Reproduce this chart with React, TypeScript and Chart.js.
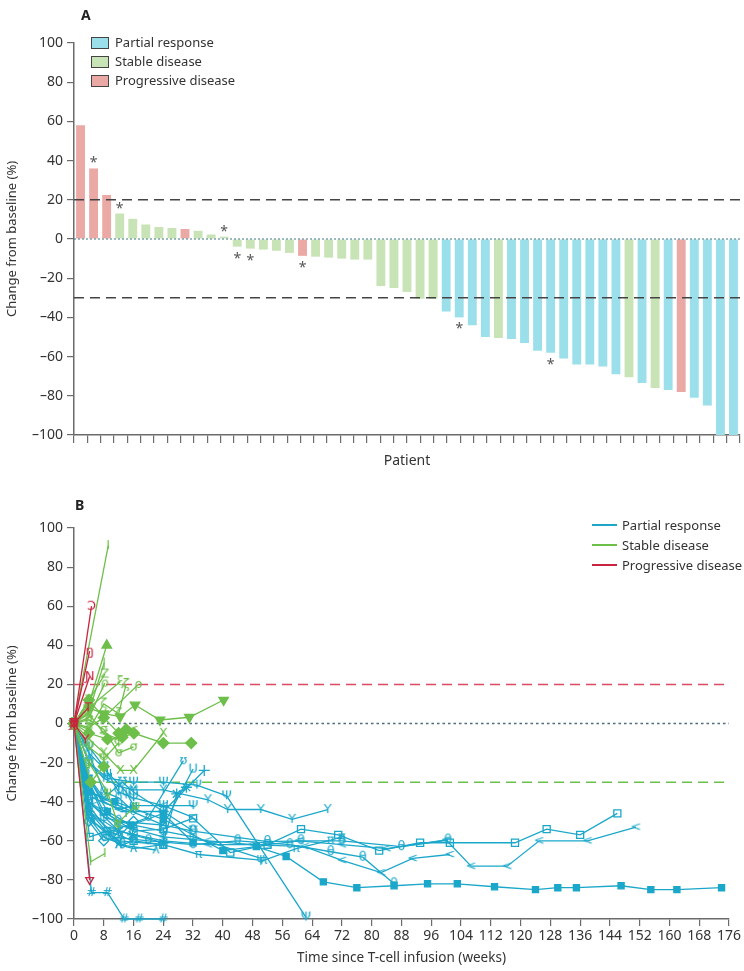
import { useEffect, useRef } from 'react';
import { Chart, registerables } from 'chart.js';

Chart.register(...registerables);

const FONT = '"Noto Sans", "Open Sans", sans-serif';
const TEXT = '#333';
const AXIS = '#6b6b6b';

// ---- panel A: best change per patient ----
const patients = [
  'P1', 'P2', 'P3', 'P4', 'P5', 'P6', 'P7', 'P8', 'P9', 'P10', 'P11', 'P12', 'P13', 'P14', 'P15', 'P16', 'P17',
  'P18', 'P19', 'P20', 'P21', 'P22', 'P23', 'P24', 'P25', 'P26', 'P27', 'P28', 'P29', 'P30', 'P31', 'P32', 'P33', 'P34',
  'P35', 'P36', 'P37', 'P38', 'P39', 'P40', 'P41', 'P42', 'P43', 'P44', 'P45', 'P46', 'P47', 'P48', 'P49', 'P50', 'P51',
];
const bestChange = [
  58, 36, 22.5, 13, 10.3, 7.4, 6.1, 5.6, 5.1, 4.2, 2.3, 1.2, -3.9, -4.9, -5.4, -6, -7.1,
  -8.6, -9, -9.5, -10, -10.5, -10.5, -24, -25, -27, -30.5, -30.5, -37, -40, -44, -50, -50.5, -51,
  -53, -57, -58, -61, -64, -64, -65, -69, -70.5, -73.5, -76, -77, -78, -81, -85, -100, -100,
];
const bestResponse = [
  'PD', 'PD', 'PD', 'SD', 'SD', 'SD', 'SD', 'SD', 'PD', 'SD', 'SD', 'SD', 'SD', 'SD', 'SD', 'SD', 'SD',
  'PD', 'SD', 'SD', 'SD', 'SD', 'SD', 'SD', 'SD', 'SD', 'SD', 'SD', 'PR', 'PR', 'PR', 'PR', 'SD', 'PR',
  'PR', 'PR', 'PR', 'PR', 'PR', 'PR', 'PR', 'PR', 'SD', 'PR', 'SD', 'PR', 'PD', 'PR', 'PR', 'PR', 'PR',
];
const asteriskAt = [1, 3, 11, 12, 13, 17, 29, 36];
const thresholdsA = [20, 0, -30];

const responseKeys = ['PR', 'SD', 'PD'];
const responseNames = ['Partial response', 'Stable disease', 'Progressive disease'];
const barColors = ['#9bdfea', '#c8e3b5', '#eba9a6'];
const lineColors = ['#1ba7ca', '#6dbf4a', '#c9243f'];

// ---- panel B: change over time, [week, % change] ----
const partialLines: [number, number][][] = [
  [[0, 0], [4, -35], [11, -40], [24, -49], [40, -65], [49, -63], [57, -68], [67, -81], [76, -84], [86, -83], [95, -82], [103, -82], [113, -83.5], [124, -85], [130, -84], [135, -84], [147, -83], [155, -85], [162, -85], [174, -84]],
  [[0, 0], [4, -30], [8, -45], [16, -55], [24, -54], [32, -48.5], [42, -66], [52, -62], [61, -54], [71, -57], [82, -65], [93, -61], [101, -61], [118.5, -61], [127, -54], [136, -57], [146, -46]],
  [[0, 0], [4, -40], [12, -55], [24, -60], [36, -62], [52, -62], [60.5, -60], [72, -62], [84, -64], [100, -59.6], [106.7, -73], [116.4, -73], [125, -60], [138, -60], [151, -53]],
  [[0, 0], [4, -45], [10, -58], [20, -60], [32, -62], [44, -60], [58, -62], [69, -65.6], [77.6, -68.4], [86, -82]],
  [[0, 0], [5, -42], [12, -52], [24, -58], [36, -60], [48, -62], [62, -63], [72, -70], [82.5, -76.3], [91, -69], [101, -67]],
  [[0, 0], [5, -50], [12, -60], [24, -62], [33.5, -67], [51, -70], [59.7, -64], [69, -59.6], [72, -58]],
  [[0, 0], [4, -40], [12, -50], [24, -52], [32, -55], [52, -60.4], [61, -60], [72, -60], [88, -63], [100.5, -59.6]],
  [[0, 0], [4, -20], [8, -28], [12, -32], [16, -34], [24, -34], [36, -39], [41.3, -44], [50.2, -44], [58.6, -49], [68.2, -44]],
  [[0, 0], [4, -20], [9, -28], [16, -30], [24, -30], [33, -31.5], [41, -37], [62.3, -99]],
  [[0, 0], [4.7, -86.5], [9, -86.5], [13.5, -100], [17.5, -100], [24, -100]],
  [[0, 0], [4, -45], [10, -55], [20, -48], [29.4, -19]],
  [[0, 0], [4, -35], [12, -42], [24, -52], [32, -23.3]],
  [[0, 0], [5, -38], [14, -45], [24, -45], [35, -24]],
  [[0, 0], [4, -45], [12, -55], [15.7, -57], [24, -61], [27.6, -36], [30.2, -32.6]],
  [[0, 0], [5, -50], [12, -62], [22, -64.7]],
  [[0, 0], [4, -48], [8, -58], [13, -62], [16, -60]],
  [[0, 0], [4, -28], [8, -40], [12, -44], [16, -42], [24, -42], [32, -48]],
  [[0, 0], [4.2, -58], [9, -55], [16, -60], [24, -62]],
  [[0, 0], [4, -15], [9, -25], [14, -35], [16, -42]],
  [[0, 0], [4, -42], [12, -62], [16, -64], [24, -62]],
  [[0, 0], [3, -25], [8, -38], [13, -30], [16, -35], [24, -45], [32, -55]],
  [[0, 0], [4, -30], [8, -48], [16, -52], [24, -55], [32, -58], [50.2, -69]],
  [[0, 0], [4, -28], [9, -45], [15.3, -52], [24, -46], [32, -61]],
  [[0, 0], [4, -50], [8, -60], [12, -58], [16, -50]],
  [[0, 0], [3, -10], [8, -35], [12, -38], [16, -45]],
  [[0, 0], [4, -12], [8, -22], [12, -35], [16, -38], [24, -42], [32, -42]],
];
const partialMarks = ['■', '□', '<', 'θ', '<', 'π', 'θ', 'Y', 'Ψ', '#', 'ʊ', 'U', '+', '☆', 'λ', 'θ', '<', '□', 'ψ', 'ʌ', 'Ʊ', 'ψ', '■', '◇', '0', 'Ψ'];

const stableLines: [number, number][][] = [
  [[0, 0], [9.2, 91]],
  [[0, 0], [4, 10], [8.8, 40]],
  [[0, 0], [4, 6], [8.1, 31]],
  [[0, 0], [4, 12], [8.3, 25.3]],
  [[0, 0], [4, 3], [8.3, 20.7]],
  [[0, 0], [4, 8], [12.4, 21.4]],
  [[0, 0], [4, -2], [8, 3], [17.3, 20]],
  [[0, 0], [4, 8], [8, 5], [12.4, 3.5], [16.4, 9.5], [23.1, 1.8], [31, 3.2], [40.2, 12]],
  [[0, 0], [4, -5], [9, -8], [13, -7], [16.1, -5], [24, -10], [31.5, -10]],
  [[0, 0], [4, -8], [8, -15], [12.5, -24], [16, -24], [24, -5]],
  [[0, 0], [4.5, -70.7], [8.3, -66.5]],
  [[0, 0], [4.5, -30], [8, -22]],
  [[0, 0], [4, -20], [9, -35], [11.7, -51], [16.6, -42]],
  [[0, 0], [4, 5], [8, -5], [12, -8], [16, -3]],
  [[0, 0], [4, 2], [8, -3], [12, -15], [16, -12]],
  [[0, 0], [4, -3], [8, 10], [12, 5], [14, 20]],
  [[0, 0], [4, 12], [8, 3], [12, -5], [14, -3]],
  [[0, 0], [4, -12], [8, -18], [12, -10]],
];
const stableMarks = ['I', '▲', 'J', 'Z', 'ρ', 'ξ', 'ρ', '▼', '◆', 'X', 'I', '◆', 'ψ', '<', 'σ', 'ζ', '◆', 'Ψ'];

const progressiveLines: [number, number][][] = [
  [[0, 0], [4.7, 60]],
  [[0, 0], [4.2, 37]],
  [[0, 0], [4.2, 24]],
  [[0, 0], [3.8, 8]],
  [[0, 0], [4.2, -80]],
  [[0, 0], [3.1, -8.4]],
];
const progressiveMarks = ['Ↄ', 'ŋ', 'Ɲ', 'T', '▽', 'Y'];

const thresholdsB = [20, 0, -30];

const tickLabel = (v: string | number) => (Number(v) < 0 ? '–' + Math.abs(Number(v)) : String(v));

function makeGlyph(ch: string, color: string): HTMLCanvasElement {
  const c = document.createElement('canvas');
  c.width = 13;
  c.height = 15;
  const g = c.getContext('2d');
  if (g) {
    g.fillStyle = color;
    g.font = '13px "DejaVu Sans"';
    g.textAlign = 'center';
    g.textBaseline = 'middle';
    g.fillText(ch, 6.5, 7.5);
  }
  return c;
}

function markerStyle(mark: string, color: string) {
  switch (mark) {
    case '■': return { pointStyle: 'rect', pointBackgroundColor: color, pointRadius: 4.3 };
    case '□': return { pointStyle: 'rect', pointBackgroundColor: 'rgba(255,255,255,0)', pointRadius: 5 };
    case '▼': return { pointStyle: 'triangle', pointRotation: 180, pointBackgroundColor: color, pointRadius: 5.5 };
    case '▽': return { pointStyle: 'triangle', pointRotation: 180, pointBackgroundColor: 'rgba(255,255,255,0)', pointRadius: 4.5 };
    case '▲': return { pointStyle: 'triangle', pointBackgroundColor: color, pointRadius: 5.5 };
    case '◆': return { pointStyle: 'rectRot', pointBackgroundColor: color, pointRadius: 5.5 };
    case '◇': return { pointStyle: 'rectRot', pointBackgroundColor: 'rgba(255,255,255,0)', pointRadius: 5 };
    case '☆': return { pointStyle: 'star', pointBackgroundColor: 'rgba(255,255,255,0)', pointRadius: 5.5 };
    case '+': return { pointStyle: 'cross', pointRadius: 5.5 };
    default: return { pointStyle: makeGlyph(mark, color), pointRadius: 5 };
  }
}

const axisTitle = (text: string, size: number, padding: { top: number; bottom: number }) => ({
  display: true,
  text,
  color: TEXT,
  font: { family: FONT, size },
  padding,
});

const WaterfallChart = () => {
  const ref = useRef<HTMLCanvasElement>(null);

  useEffect(() => {
    if (!ref.current) return;

    const refLines = {
      id: 'refLinesA',
      afterDatasetsDraw(chart: Chart) {
        const { ctx, chartArea, scales } = chart;
        ctx.save();
        thresholdsA.forEach((t) => {
          const y = scales.y.getPixelForValue(t);
          ctx.beginPath();
          ctx.strokeStyle = t === 0 ? '#3f7888' : '#444';
          ctx.lineWidth = t === 0 ? 1.2 : 1.5;
          ctx.setLineDash(t === 0 ? [2, 2] : [10, 6]);
          ctx.moveTo(chartArea.left, y);
          ctx.lineTo(chartArea.right, y);
          ctx.stroke();
        });
        ctx.restore();
      },
    };

    const asterisks = {
      id: 'asterisks',
      afterDatasetsDraw(chart: Chart) {
        const { ctx, scales } = chart;
        ctx.save();
        ctx.fillStyle = '#555';
        ctx.font = `14px ${FONT}`;
        ctx.textAlign = 'center';
        ctx.textBaseline = 'middle';
        asteriskAt.forEach((i) => {
          const v = bestChange[i];
          const x = scales.x.getPixelForValue(i);
          const y = scales.y.getPixelForValue(v);
          ctx.fillText('*', x, v >= 0 ? y - 5 : y + 12);
        });
        ctx.restore();
      },
    };

    const chart = new Chart(ref.current, {
      type: 'bar',
      data: {
        labels: patients,
        datasets: responseKeys.map((key, k) => ({
          label: responseNames[k],
          data: bestChange.map((v, i) => (bestResponse[i] === key ? v : null)),
          backgroundColor: barColors[k],
          borderWidth: 0,
          grouped: false,
          categoryPercentage: 1,
          barPercentage: 0.68,
        })),
      },
      options: {
        responsive: true,
        maintainAspectRatio: false,
        animation: false,
        layout: { padding: { top: 43, right: 4, left: 0, bottom: 0 } },
        plugins: { legend: { display: false }, tooltip: { enabled: false } },
        scales: {
          x: { display: false },
          xt: {
            type: 'linear',
            position: 'bottom',
            min: 0,
            max: 49,
            ticks: { stepSize: 1, display: false },
            grid: { drawOnChartArea: false, tickLength: 8, color: AXIS, lineWidth: 1.2 },
            border: { color: AXIS, width: 1.5 },
            title: axisTitle('Patient', 14, { top: 0, bottom: 11 }),
            afterFit: (s: any) => { s.height = 45; },
          },
          y: {
            min: -100,
            max: 100,
            ticks: { stepSize: 20, color: TEXT, font: { family: FONT, size: 14 }, padding: 4, callback: tickLabel },
            grid: { drawOnChartArea: false, tickLength: 7, color: AXIS, lineWidth: 1.2 },
            border: { color: AXIS, width: 1.5 },
            title: axisTitle('Change from baseline (%)', 13, { top: 4, bottom: 0 }),
            afterFit: (s: any) => { s.width = 74; },
          },
        },
      } as any,
      plugins: [refLines, asterisks],
    });

    return () => chart.destroy();
  }, []);

  return <canvas ref={ref} />;
};

const SpiderChart = () => {
  const ref = useRef<HTMLCanvasElement>(null);

  useEffect(() => {
    if (!ref.current) return;

    const refLines = {
      id: 'refLinesB',
      beforeDatasetsDraw(chart: Chart) {
        const { ctx, chartArea, scales } = chart;
        const styles = [
          { color: '#d64a63', dash: [10, 6], width: 1.5 },
          { color: '#4d6b7a', dash: [2.5, 3], width: 1.3 },
          { color: '#6dbf4a', dash: [10, 6], width: 1.5 },
        ];
        ctx.save();
        thresholdsB.forEach((t, k) => {
          const y = scales.y.getPixelForValue(t);
          ctx.beginPath();
          ctx.strokeStyle = styles[k].color;
          ctx.lineWidth = styles[k].width;
          ctx.setLineDash(styles[k].dash);
          ctx.moveTo(chartArea.left, y);
          ctx.lineTo(chartArea.right, y);
          ctx.stroke();
        });
        ctx.restore();
      },
    };

    const groups = [
      { lines: progressiveLines, marks: progressiveMarks, color: lineColors[2] },
      { lines: stableLines, marks: stableMarks, color: lineColors[1] },
      { lines: partialLines, marks: partialMarks, color: lineColors[0] },
    ];
    const datasets = groups.flatMap((g) =>
      g.lines.map((line, i) => ({
        data: line.map(([x, y]) => ({ x, y })),
        borderColor: g.color,
        borderWidth: 1.3,
        pointBorderColor: g.color,
        pointBorderWidth: 1.3,
        tension: 0,
        clip: false as const,
        ...markerStyle(g.marks[i], g.color),
      })),
    );

    const chart = new Chart(ref.current, {
      type: 'line',
      data: { datasets },
      options: {
        responsive: true,
        maintainAspectRatio: false,
        animation: false,
        layout: { padding: { top: 38, right: 15, left: 0, bottom: 0 } },
        plugins: { legend: { display: false }, tooltip: { enabled: false } },
        scales: {
          x: {
            type: 'linear',
            min: 0,
            max: 176,
            ticks: { stepSize: 8, autoSkip: false, maxRotation: 0, color: TEXT, font: { family: FONT, size: 14 }, padding: 2 },
            grid: { drawOnChartArea: false, tickLength: 7, color: AXIS, lineWidth: 1.2 },
            border: { color: AXIS, width: 1.5 },
            title: axisTitle('Time since T-cell infusion (weeks)', 13.5, { top: 0, bottom: 5 }),
            afterFit: (s: any) => { s.height = 52; },
          },
          y: {
            min: -100,
            max: 100,
            ticks: { stepSize: 20, color: TEXT, font: { family: FONT, size: 14 }, padding: 4, callback: tickLabel },
            grid: { drawOnChartArea: false, tickLength: 7, color: AXIS, lineWidth: 1.2 },
            border: { color: AXIS, width: 1.5 },
            title: axisTitle('Change from baseline (%)', 13, { top: 4, bottom: 0 }),
            afterFit: (s: any) => { s.width = 74; },
          },
        },
      } as any,
      plugins: [refLines],
    });

    return () => chart.destroy();
  }, []);

  return <canvas ref={ref} />;
};

const legendText: React.CSSProperties = { fontFamily: FONT, fontSize: 13, color: TEXT, lineHeight: '19px', whiteSpace: 'nowrap' };

export default function App() {
  return (
    <div style={{ position: 'absolute', left: 0, top: 0, width: 744, height: 971, background: '#fff' }}>
      <div style={{ position: 'absolute', left: 0, top: 0, width: 744, height: 480 }}>
        <WaterfallChart />
      </div>
      <div style={{ position: 'absolute', left: 0, top: 490, width: 744, height: 481 }}>
        <SpiderChart />
      </div>

      <div style={{ position: 'absolute', left: 81, top: 5, fontFamily: FONT, fontWeight: 700, fontSize: 14, color: '#222' }}>A</div>
      <div style={{ position: 'absolute', left: 75, top: 495, fontFamily: FONT, fontWeight: 700, fontSize: 14, color: '#222' }}>B</div>

      <div style={{ position: 'absolute', left: 91, top: 33 }}>
        {responseNames.map((name, k) => (
          <div key={name} style={{ display: 'flex', alignItems: 'center', ...legendText }}>
            <span style={{ display: 'inline-block', width: 16, height: 10, background: barColors[k], border: '1px solid #444', marginRight: 6 }} />
            {name}
          </div>
        ))}
      </div>

      <div style={{ position: 'absolute', left: 592, top: 515 }}>
        {responseNames.map((name, k) => (
          <div key={name} style={{ display: 'flex', alignItems: 'center', ...legendText, lineHeight: '20px' }}>
            <span style={{ display: 'inline-block', width: 25, height: 2, background: lineColors[k], marginRight: 5 }} />
            {name}
          </div>
        ))}
      </div>
    </div>
  );
}
